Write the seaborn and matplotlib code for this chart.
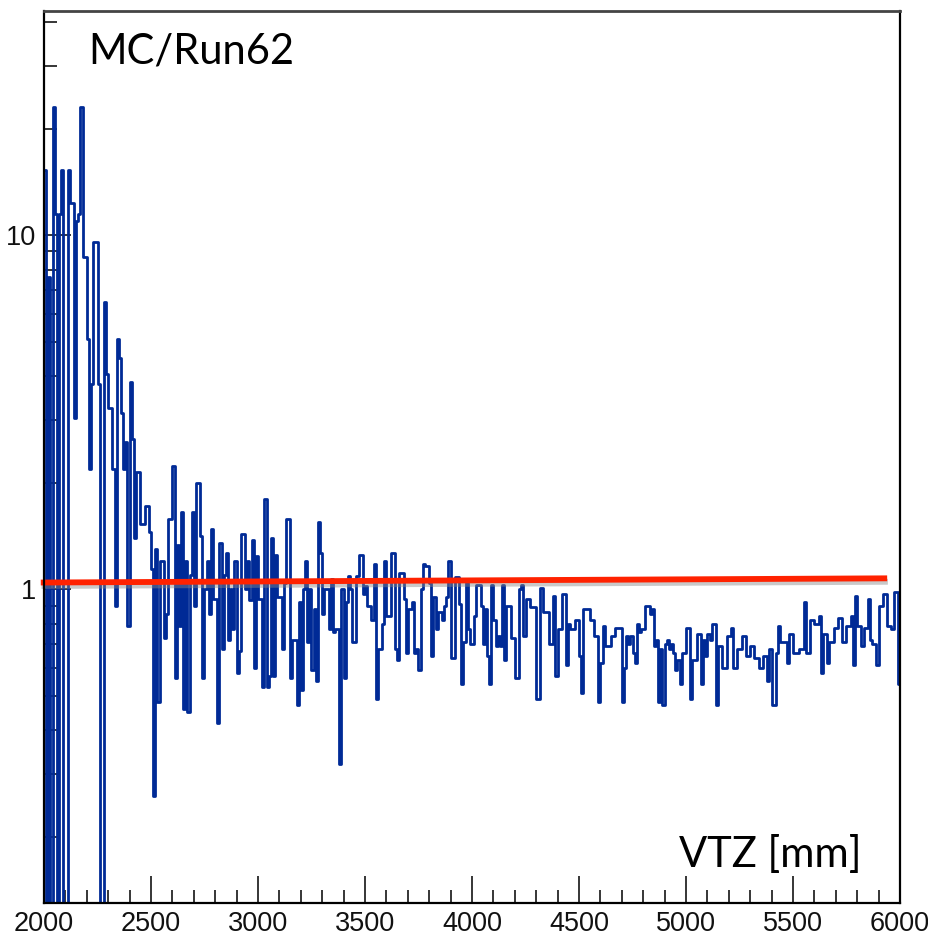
import numpy as np
import pandas as pd
import matplotlib
matplotlib.use("Agg")
import matplotlib.pyplot as plt
import matplotlib.patheffects as pe
from matplotlib.ticker import MultipleLocator, FixedLocator, NullFormatter
import seaborn as sns

Z = 0.01  # empty bins (below the visible range)

# MC/Run62 ratio, 10 mm bins from 2000 to 6000 mm
ratio_2000_2500 = [
    15.3, Z, 7.6, Z, 23, 11.5, Z, 11.5, 15.3, Z,
    Z, 15.3, 12.3, 12.3, 3.05, 11, 11.5, 23, 8.7, 8.7,
    5.1, 2.18, 3.8, 9.6, 9.6, 3.8, Z, Z, 6.5, 4.05,
    3.26, 3.26, 2.18, 0.9, 5.1, 4.5, 3.15, 2.18, 2.6, 0.79,
    3.84, 2.65, 1.4, 2.14, 2.14, 1.53, 1.53, 1.72, 1.72, 1.45,
]
ratio_2500_3000 = [
    1.14, 0.26, 1.3, 0.48, 1.2, 1.2, 0.73, 0.85, 1.58, 1.58,
    2.23, 0.56, 1.33, 0.79, 1.65, 0.46, 1.2, 0.45, 1.1, 1.65,
    0.9, 2.0, 2.0, 1.41, 0.56, 1.0, 1.2, 0.85, 1.48, 0.94,
    0.94, 0.42, 1.35, 0.68, 1.1, 1.27, 0.72, 1.0, 0.77, 1.2,
    0.58, 0.67, 1.43, 1.43, 1.0, 1.2, 0.93, 1.38, 0.6, 1.24,
]
ratio_3000_3500 = [
    0.94, 0.94, 0.53, 1.8, 0.53, 0.57, 1.4, 0.57, 1.25, 0.95,
    0.95, 0.68, 1.04, 1.58, 1.58, 0.56, 0.72, 0.72, 0.47, 0.92,
    0.52, 1.0, 1.2, 0.71, 1.0, 0.59, 0.88, 0.55, 1.55, 1.27,
    0.85, 1.0, 1.0, 0.77, 1.07, 0.76, 0.77, 0.77, 0.32, 1.0,
    0.56, 0.92, 1.09, 1.0, 0.71, 0.71, 1.09, 1.25, 1.25, 0.97,
]
ratio_3500_4000 = [
    1.02, 0.9, 0.9, 0.82, 1.18, 0.49, 0.68, 0.68, 0.8, 1.2,
    0.84, 0.84, 1.27, 1.27, 0.68, 0.63, 1.11, 1.11, 0.94, 0.66,
    0.88, 0.88, 0.92, 0.66, 0.68, 0.59, 1.0, 1.18, 1.16, 1.16,
    1.04, 0.65, 0.95, 0.77, 0.86, 0.86, 0.82, 0.9, 0.95, 1.2,
    0.64, 0.64, 1.08, 1.08, 0.91, 0.54, 0.71, 1.04, 0.77, 0.7,
]
ratio_4000_4500 = [
    0.7, 0.84, 1.03, 1.03, 0.9, 0.7, 0.88, 0.65, 0.54, 1.03,
    0.82, 0.69, 0.74, 0.69, 1.03, 0.63, 0.9, 0.9, 0.73, 0.73,
    0.56, 0.56, 1.0, 1.03, 0.74, 0.94, 0.94, 0.89, 0.89, 0.89,
    0.49, 0.49, 1.01, 0.86, 0.86, 0.86, 0.7, 0.7, 0.96, 0.57,
    0.77, 0.77, 0.97, 0.97, 0.61, 0.8, 0.77, 0.77, 0.82, 0.82,
]
ratio_4500_5000 = [
    0.65, 0.51, 0.88, 0.88, 0.88, 0.82, 0.82, 0.74, 0.74, 0.48,
    0.62, 0.79, 0.69, 0.69, 0.69, 0.74, 0.74, 0.78, 0.78, 0.78,
    0.48, 0.6, 0.74, 0.7, 0.74, 0.66, 0.62, 0.8, 0.76, 0.77,
    0.77, 0.9, 0.9, 0.85, 0.88, 0.69, 0.72, 0.48, 0.68, 0.47,
    0.7, 0.72, 0.68, 0.7, 0.66, 0.59, 0.63, 0.54, 0.66, 0.66,
]
ratio_5000_5500 = [
    0.78, 0.78, 0.49, 0.63, 0.63, 0.75, 0.75, 0.54, 0.72, 0.65,
    0.75, 0.72, 0.8, 0.8, 0.47, 0.69, 0.69, 0.6, 0.6, 0.74,
    0.74, 0.78, 0.6, 0.6, 0.68, 0.68, 0.74, 0.74, 0.65, 0.65,
    0.69, 0.69, 0.64, 0.64, 0.6, 0.6, 0.65, 0.65, 0.55, 0.68,
    0.47, 0.47, 0.66, 0.79, 0.71, 0.71, 0.71, 0.62, 0.75, 0.75,
]
ratio_5500_6000 = [
    0.66, 0.66, 0.66, 0.68, 0.68, 0.92, 0.66, 0.66, 0.82, 0.82,
    0.8, 0.8, 0.84, 0.58, 0.75, 0.75, 0.62, 0.71, 0.71, 0.78,
    0.78, 0.83, 0.83, 0.71, 0.71, 0.79, 0.79, 0.84, 0.61, 0.96,
    0.79, 0.79, 0.69, 0.78, 0.78, 0.94, 0.72, 0.7, 0.7, 0.61,
    0.9, 0.9, 0.97, 0.97, 0.79, 0.79, 0.77, 0.98, 0.98, 0.54,
]

x_min, x_max, bin_width = 2000, 6000, 10

# straight-line fit drawn in red
fit_x = [1985, 5940]
fit_y = [1.045, 1.074]

y_major = [1, 10]
y_minor = [0.2, 0.3, 0.4, 0.5, 0.6, 0.7, 0.8, 0.9,
           2, 3, 4, 5, 6, 7, 8, 9, 20, 30, 40]
x_ticks = [2000, 2500, 3000, 3500, 4000, 4500, 5000, 5500, 6000]

values = (ratio_2000_2500 + ratio_2500_3000 + ratio_3000_3500 + ratio_3500_4000
          + ratio_4000_4500 + ratio_4500_5000 + ratio_5000_5500 + ratio_5500_6000)
edges = np.arange(x_min, x_max + bin_width, bin_width)
df = pd.DataFrame({"vtz": edges, "ratio": values + [values[-1]]})
fit_df = pd.DataFrame({"vtz": fit_x, "ratio": fit_y})

sns.set_theme(style="white")
plt.rcParams["font.family"] = ["Liberation Sans Narrow", "Liberation Sans", "DejaVu Sans"]

fig = plt.figure(figsize=(9.29, 9.44), dpi=100)
ax = fig.add_axes([44 / 929, 41 / 944, 856 / 929, 892 / 944])

ax.set_yscale("log")
sns.lineplot(data=df, x="vtz", y="ratio", ax=ax, estimator=None, sort=False,
             drawstyle="steps-post", color="#002a96", linewidth=2.0)
sns.lineplot(data=fit_df, x="vtz", y="ratio", ax=ax, estimator=None, sort=False,
             color="#ff2200", linewidth=4.2, clip_on=False, solid_capstyle="butt",
             path_effects=[pe.SimpleLineShadow(offset=(0.5, -2.5), shadow_color="#888888", alpha=0.45),
                           pe.Normal()])

ax.set_xlim(x_min, x_max)
ax.set_ylim(0.13, 43)
ax.set_xlabel("")
ax.set_ylabel("")

ax.xaxis.set_major_locator(FixedLocator(x_ticks))
ax.xaxis.set_minor_locator(MultipleLocator(100))
ax.yaxis.set_major_locator(FixedLocator(y_major))
ax.yaxis.set_minor_locator(FixedLocator(y_minor))
ax.yaxis.set_minor_formatter(NullFormatter())
ax.set_yticklabels([str(v) for v in y_major])
ax.set_xticklabels([str(v) for v in x_ticks])

ax.tick_params(axis="both", which="major", direction="in", length=19.5, width=1.1,
               color="black", labelsize=19.5, labelcolor="#111111")
ax.tick_params(axis="both", which="minor", direction="in", length=9.5, width=1.1,
               color="black")
ax.tick_params(axis="x", which="both", pad=6, top=False, bottom=True)
ax.tick_params(axis="y", which="both", pad=6, right=False, left=True)

for side in ["left", "bottom", "right"]:
    ax.spines[side].set_color("black")
    ax.spines[side].set_linewidth(1.6)
ax.spines["top"].set_color("#444444")
ax.spines["top"].set_linewidth(2.0)

ax.text(0.0514, 0.9417, "MC/Run62", transform=ax.transAxes, fontsize=30,
        family=["Lato", "DejaVu Sans"], color="black", ha="left", va="baseline")
ax.text(0.9556, 0.040, "VTZ [mm]", transform=ax.transAxes, fontsize=30,
        family=["Lato", "DejaVu Sans"], color="black", ha="right", va="baseline")

fig.savefig("out.png", dpi=100)
